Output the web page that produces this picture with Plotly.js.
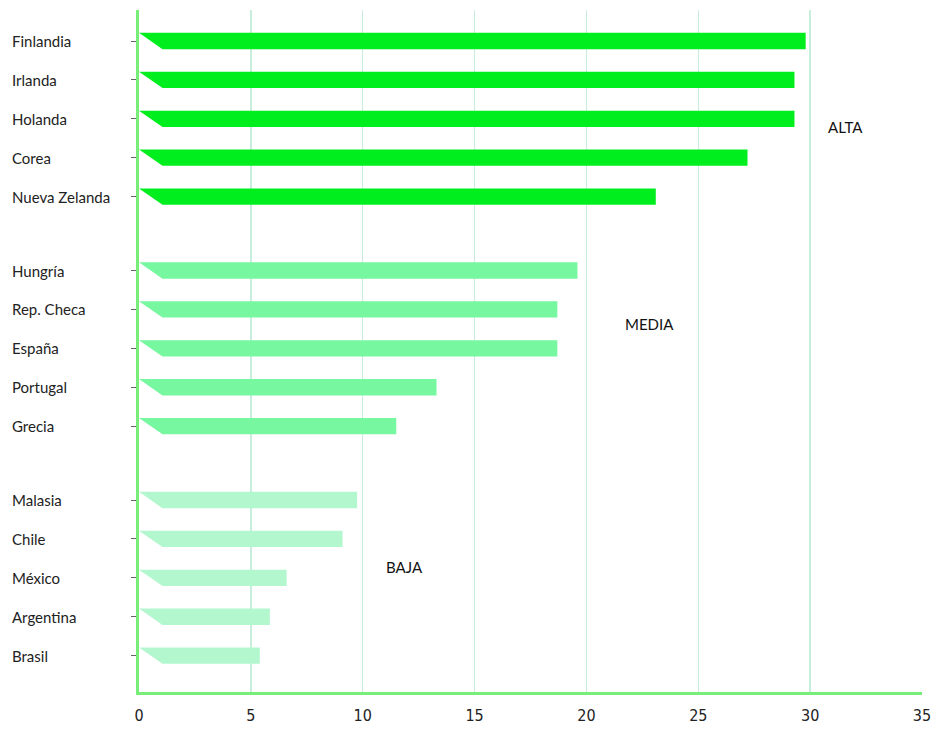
<!DOCTYPE html>
<html>
<head>
<meta charset="utf-8">
<script src="https://cdn.plot.ly/plotly-3.0.1.min.js"></script>
<style>html,body{margin:0;padding:0;background:#fff;}#chart{width:940px;height:730px;}</style>
</head>
<body>
<div id="chart"></div>
<script>
// Data
const altaCountries = ["Finlandia", "Irlanda", "Holanda", "Corea", "Nueva Zelanda"];
const altaValues = [29.8, 29.3, 29.3, 27.2, 23.1];
const mediaCountries = ["Hungría", "Rep. Checa", "España", "Portugal", "Grecia"];
const mediaValues = [19.6, 18.7, 18.7, 13.3, 11.5];
const bajaCountries = ["Malasia", "Chile", "México", "Argentina", "Brasil"];
const bajaValues = [9.75, 9.1, 6.6, 5.85, 5.4];
const groupNames = ["ALTA", "MEDIA", "BAJA"];
const xTickVals = [0, 5, 10, 15, 20, 25, 30, 35];

// Styling
const groupColors = ["#00ee1e", "#77f7a0", "#b3f7cf"];
const groupStart = [0, 5.9, 11.8];
const halfH = 0.21;
const slant = 1.05;
const groupLabelPos = [[31.56, 2.21], [22.84, 7.27], [11.85, 13.52]];

const groups = [
  {names: altaCountries, values: altaValues},
  {names: mediaCountries, values: mediaValues},
  {names: bajaCountries, values: bajaValues}
];

const traces = [];
const annotations = [];
const yTicks = [];
groups.forEach((g, gi) => {
  const xs = [], ys = [];
  g.values.forEach((v, i) => {
    const y = groupStart[gi] + i;
    yTicks.push(y);
    xs.push(0, v, v, slant, 0, null);
    ys.push(y - halfH, y - halfH, y + halfH, y + halfH, y - halfH, null);
    annotations.push({
      xref: "paper", yref: "y", x: -0.1648, y: y, xanchor: "left", yanchor: "middle",
      text: g.names[i], showarrow: false,
      font: {family: "Lato, 'Noto Sans', sans-serif", size: 15, color: "#222"}
    });
  });
  traces.push({
    type: "scatter", mode: "lines", x: xs, y: ys, fill: "toself",
    fillcolor: groupColors[gi], line: {width: 0, color: groupColors[gi]},
    hoverinfo: "skip", showlegend: false, connectgaps: false
  });
  annotations.push({
    xref: "x", yref: "y", x: groupLabelPos[gi][0], y: groupLabelPos[gi][1],
    text: groupNames[gi], showarrow: false,
    font: {family: "Lato, 'Noto Sans', sans-serif", size: 15, color: "#111"}
  });
});

const layout = {
  width: 940, height: 730,
  margin: {l: 139, r: 18, t: 10, b: 38},
  paper_bgcolor: "#ffffff", plot_bgcolor: "#ffffff",
  showlegend: false,
  xaxis: {
    range: [0, 35], tickvals: xTickVals, ticktext: xTickVals.map(String),
    showgrid: true, gridcolor: "#c8eedb", gridwidth: 1.5,
    zeroline: false, showline: true, linecolor: "#77ee77", linewidth: 2.5,
    ticks: "", ticklabelstandoff: 7,
    tickfont: {family: "'DejaVu Sans Condensed', 'Liberation Sans Narrow', 'DejaVu Sans', sans-serif", size: 16, color: "#222"},
    fixedrange: true
  },
  yaxis: {
    range: [16.735, -0.797], tickvals: yTicks, ticktext: yTicks.map(() => ""),
    showgrid: false, zeroline: false, showline: true, linecolor: "#77ee77", linewidth: 3,
    ticks: "outside", ticklen: 5, tickcolor: "#666", tickwidth: 1,
    fixedrange: true
  },
  annotations: annotations
};

Plotly.newPlot("chart", traces, layout, {displayModeBar: false, staticPlot: true});
</script>
</body>
</html>
